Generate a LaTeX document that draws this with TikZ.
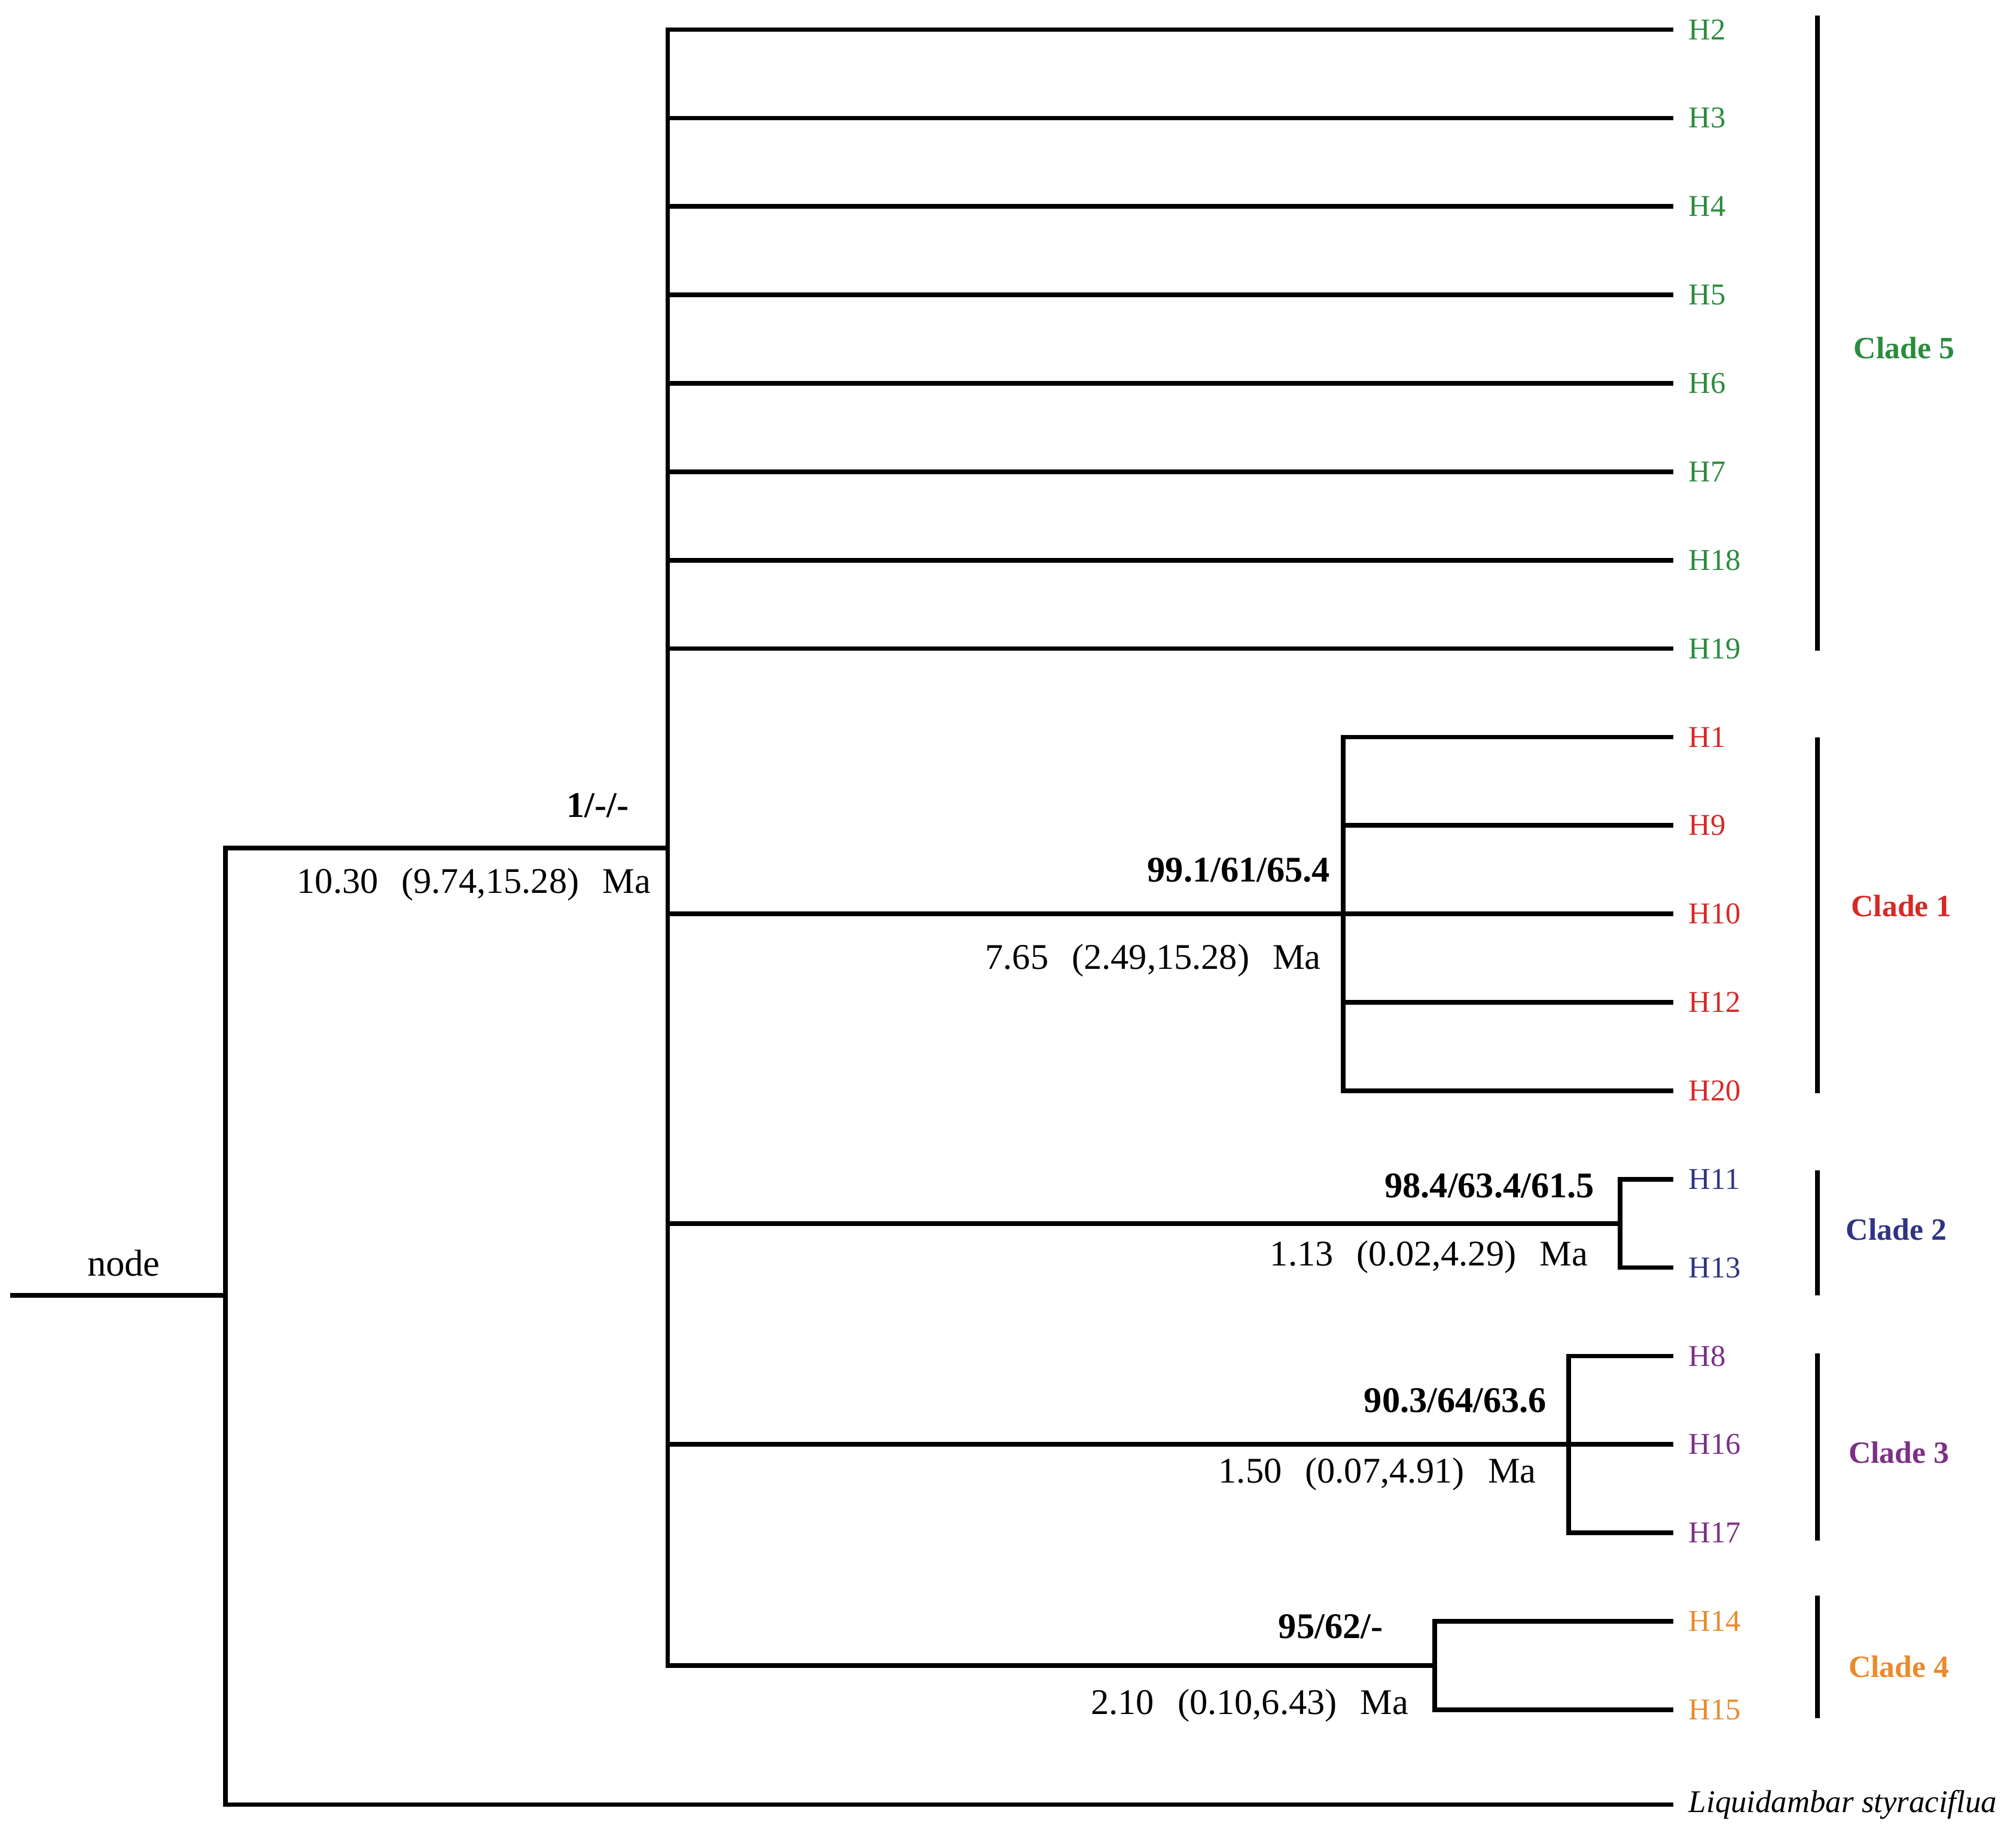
\documentclass[tikz,border=0pt]{standalone}
\usepackage{fontspec}
\setmainfont{Liberation Serif}
\usepackage{tikz}
\usetikzlibrary{
    arrows.meta,
    positioning,
    calc
}

\definecolor{cladefive}{RGB}{42,140,62}
\definecolor{cladeone}{RGB}{214,42,38}
\definecolor{cladetwo}{RGB}{48,52,130}
\definecolor{cladethree}{RGB}{124,48,134}
\definecolor{cladefour}{RGB}{234,138,44}

\newcommand{\agetext}[2]{#1\hspace{.65em}(#2)\hspace{.65em}Ma}

\tikzset{
  branch/.style={line width=3.6pt},
  cladebar/.style={line width=3.4pt},
  leaf/.style={anchor=west, inner xsep=12pt, inner ysep=0pt,
    font=\fontsize{23.5}{23.5}\selectfont},
  support/.style={anchor=base east, inner sep=0pt,
    font=\fontsize{28}{28}\selectfont\bfseries},
  age/.style={anchor=base east, inner sep=0pt,
    font=\fontsize{28}{28}\selectfont},
  clade/.style={anchor=west, inner sep=0pt,
    font=\fontsize{24}{24}\selectfont\bfseries}
}

\begin{document}
\begin{tikzpicture}[x=1pt, y=-1pt]

  \useasboundingbox (0,0) rectangle (1564,1424);

  % leaves {{{
  \foreach \name/\i/\col in {
      H2/0/cladefive, H3/1/cladefive, H4/2/cladefive, H5/3/cladefive,
      H6/4/cladefive, H7/5/cladefive, H18/6/cladefive, H19/7/cladefive,
      H1/8/cladeone, H9/9/cladeone, H10/10/cladeone, H12/11/cladeone,
      H20/12/cladeone,
      H11/13/cladetwo, H13/14/cladetwo,
      H8/15/cladethree, H16/16/cladethree, H17/17/cladethree,
      H14/18/cladefour, H15/19/cladefour}
    \node[leaf, text=\col] (\name) at (1298, {23+68.6*\i}) {\name};

  \node[leaf, font=\fontsize{24.5}{24.5}\selectfont\itshape] (outgroup)
    at (1298,1400) {Liquidambar styraciflua};
  % }}}

  % inner nodes {{{
  \coordinate (stub) at (8,1005);
  \coordinate (rt) at (175,1005);
  \coordinate (c5) at (518,658);
  \coordinate (c1) at (1042,709);
  \coordinate (c2) at (1257,949.1);
  \coordinate (c3) at (1217,1120.6);
  \coordinate (c4) at (1113,1292.1);
  % }}}

  % root {{{
  \draw[branch] (stub) -- (rt);
  \draw[branch] (rt) |- (c5);
  \draw[branch] (rt) |- (outgroup);
  \node[font=\fontsize{29}{29}\selectfont] (rootlbl) at (96,980) {node};
  % }}}

  % main clade {{{
  \foreach \n in {H2,H3,H4,H5,H6,H7,H18,H19,c1,c2,c3,c4}
    \draw[branch] (c5) |- (\n);
  \node[support] at ($(c5)+(-30,-24)$) {1/-/-};
  \node[age] at ($(c5)+(-13,35)$) {\agetext{10.30}{9.74,15.28}};
  % }}}

  % clade 1 {{{
  \foreach \n in {H1,H9,H10,H12,H20}
    \draw[branch] (c1) |- (\n);
  \node[support] at ($(c1)+(-10,-25)$) {99.1/61/65.4};
  \node[age] at ($(c1)+(-17,43)$) {\agetext{7.65}{2.49,15.28}};
  % }}}

  % clade 2 {{{
  \foreach \n in {H11,H13}
    \draw[branch] (c2) |- (\n);
  \node[support] at ($(c2)+(-20,-20)$) {98.4/63.4/61.5};
  \node[age] at ($(c2)+(-25,33)$) {\agetext{1.13}{0.02,4.29}};
  % }}}

  % clade 3 {{{
  \foreach \n in {H8,H16,H17}
    \draw[branch] (c3) |- (\n);
  \node[support] at ($(c3)+(-17,-25)$) {90.3/64/63.6};
  \node[age] at ($(c3)+(-25,30)$) {\agetext{1.50}{0.07,4.91}};
  % }}}

  % clade 4 {{{
  \foreach \n in {H14,H15}
    \draw[branch] (c4) |- (\n);
  \node[support] at ($(c4)+(-40,-21)$) {95/62/-};
  \node[age] at ($(c4)+(-20,38)$) {\agetext{2.10}{0.10,6.43}};
  % }}}

  % clade bars {{{
  \draw[cladebar] (1410,12) -- (1410,505);
  \draw[cladebar] (1410,572) -- (1410,848);
  \draw[cladebar] (1410,908) -- (1410,1005);
  \draw[cladebar] (1410,1050) -- (1410,1195);
  \draw[cladebar] (1410,1238) -- (1410,1333);

  \node[clade, text=cladefive] (lc5) at (1438,270) {Clade 5};
  \node[clade, text=cladeone] (lc1) at (1436,703) {Clade 1};
  \node[clade, text=cladetwo] (lc2) at (1432,954) {Clade 2};
  \node[clade, text=cladethree] (lc3) at (1434,1127) {Clade 3};
  \node[clade, text=cladefour] (lc4) at (1434,1293) {Clade 4};
  % }}}

\end{tikzpicture}
\end{document}
